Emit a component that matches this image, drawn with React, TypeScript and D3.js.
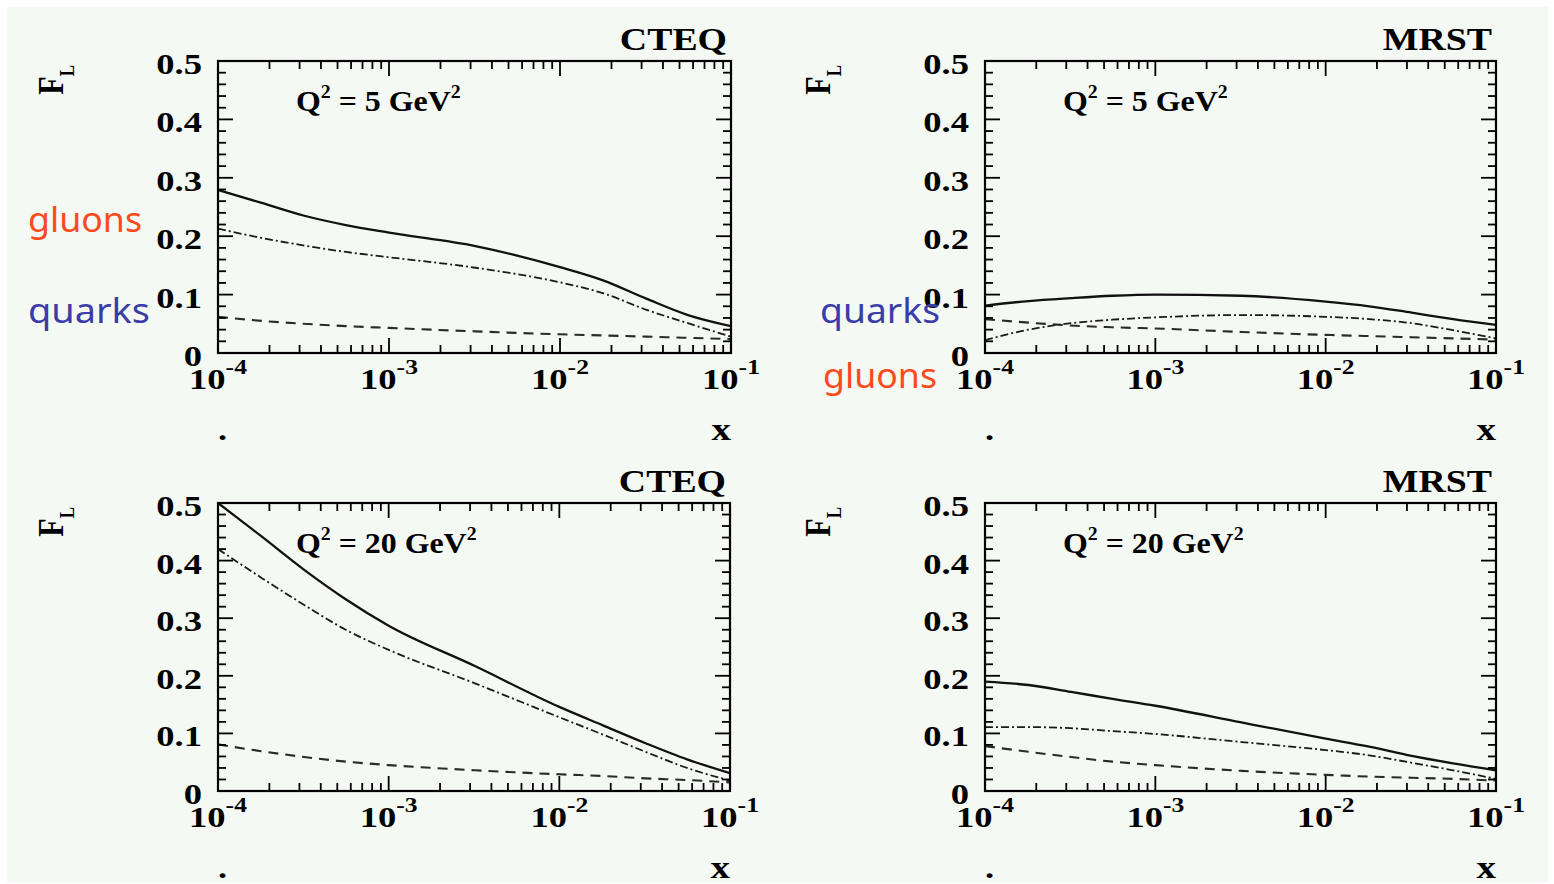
import React from "react";
import * as d3 from "d3";

// Sampling points in x (Bjorken x), shared by every curve
const X_GRID = [1e-4, 1.8e-4, 3.2e-4, 5.6e-4, 1e-3, 3.2e-3, 1e-2, 1.8e-2, 3.2e-2, 5.6e-2, 1e-1];

// F_L at Q^2 = 5 GeV^2
const CTEQ5_TOTAL = [0.279, 0.257, 0.235, 0.219, 0.206, 0.183, 0.147, 0.124, 0.093, 0.065, 0.046];
const CTEQ5_GLUON = [0.213, 0.197, 0.184, 0.173, 0.164, 0.146, 0.121, 0.102, 0.074, 0.051, 0.028];
const CTEQ5_QUARK = [0.062, 0.055, 0.05, 0.046, 0.043, 0.037, 0.032, 0.03, 0.028, 0.026, 0.024];
const MRST5_TOTAL = [0.081, 0.089, 0.094, 0.098, 0.1, 0.098, 0.088, 0.08, 0.069, 0.058, 0.048];
const MRST5_GLUON = [0.022, 0.04, 0.051, 0.057, 0.061, 0.065, 0.062, 0.058, 0.051, 0.039, 0.025];
const MRST5_QUARK = [0.058, 0.052, 0.047, 0.044, 0.042, 0.036, 0.031, 0.029, 0.027, 0.025, 0.023];

// F_L at Q^2 = 20 GeV^2
const CTEQ20_TOTAL = [0.5, 0.442, 0.384, 0.333, 0.287, 0.217, 0.146, 0.114, 0.083, 0.055, 0.031];
const CTEQ20_GLUON = [0.42, 0.37, 0.323, 0.28, 0.245, 0.187, 0.128, 0.098, 0.068, 0.04, 0.018];
const CTEQ20_QUARK = [0.081, 0.069, 0.059, 0.051, 0.045, 0.036, 0.029, 0.026, 0.022, 0.019, 0.015];
const MRST20_TOTAL = [0.19, 0.184, 0.172, 0.16, 0.148, 0.119, 0.091, 0.077, 0.061, 0.048, 0.036];
const MRST20_GLUON = [0.111, 0.111, 0.109, 0.104, 0.099, 0.085, 0.071, 0.062, 0.049, 0.036, 0.021];
const MRST20_QUARK = [0.078, 0.068, 0.059, 0.051, 0.045, 0.035, 0.028, 0.025, 0.023, 0.021, 0.018];

const PDF_SETS = ["CTEQ", "MRST"];
const Q2_VALUES = ["5", "20"];
const X_TICK_EXPONENTS = ["-4", "-3", "-2", "-1"];
const Y_TICK_LABELS = ["0", "0.1", "0.2", "0.3", "0.4", "0.5"];

const SERIES = [
  [CTEQ5_TOTAL, CTEQ5_GLUON, CTEQ5_QUARK],
  [MRST5_TOTAL, MRST5_GLUON, MRST5_QUARK],
  [CTEQ20_TOTAL, CTEQ20_GLUON, CTEQ20_QUARK],
  [MRST20_TOTAL, MRST20_GLUON, MRST20_QUARK],
];

const FRAMES = [
  { left: 218, top: 61, right: 731, bottom: 353 },
  { left: 985, top: 61, right: 1496, bottom: 353 },
  { left: 218, top: 503, right: 730, bottom: 791 },
  { left: 985, top: 503, right: 1496, bottom: 791 },
];

const SERIF = "'Liberation Serif', 'Times New Roman', serif";
const STRETCH = 1.22;

const LINE_STYLES = [
  { width: 2.3, dash: undefined, color: "#111" },
  { width: 1.8, dash: "8 3 2 3", color: "#1a1a1a" },
  { width: 2.1, dash: "10 7", color: "#2a2a2a" },
];

function Stretched({ x, y, sx = STRETCH, children }: any) {
  return <g transform={`translate(${x},${y}) scale(${sx},1)`}>{children}</g>;
}

function Panel({ index }: { index: number }) {
  const f = FRAMES[index];
  const title = PDF_SETS[index % 2];
  const q2 = Q2_VALUES[Math.floor(index / 2)];
  const data = SERIES[index];

  const x = d3.scaleLog().domain([1e-4, 1e-1]).range([f.left, f.right]);
  const y = d3.scaleLinear().domain([0, 0.5]).range([f.bottom, f.top]);
  const line = d3
    .line<number>()
    .x((_, i) => x(X_GRID[i]))
    .y((v) => y(v))
    .curve(d3.curveMonotoneX);

  const xTicks = x.ticks();
  const yTicks = d3.range(0, 26).map((k) => k * 0.02);
  const clipId = `clip-${index}`;
  const MAJ = 15;
  const MIN = 8;

  return (
    <g>
      <defs>
        <clipPath id={clipId}>
          <rect x={f.left} y={f.top} width={f.right - f.left} height={f.bottom - f.top} />
        </clipPath>
      </defs>

      {/* curves: total, gluon, quark */}
      <g clipPath={`url(#${clipId})`}>
        {data.map((vals, i) => (
          <path
            key={i}
            d={line(vals) || ""}
            fill="none"
            stroke={LINE_STYLES[i].color}
            strokeWidth={LINE_STYLES[i].width}
            strokeDasharray={LINE_STYLES[i].dash}
          />
        ))}
      </g>

      {/* x ticks on bottom and top */}
      {xTicks.map((t, i) => {
        const lg = Math.log10(t);
        const major = Math.abs(lg - Math.round(lg)) < 1e-6;
        const len = major ? MAJ : MIN;
        const px = x(t);
        return (
          <g key={`xt${i}`} stroke="#000" strokeWidth={1.8}>
            <line x1={px} x2={px} y1={f.bottom} y2={f.bottom - len} />
            <line x1={px} x2={px} y1={f.top} y2={f.top + len} />
          </g>
        );
      })}

      {/* y ticks on left and right */}
      {yTicks.map((t, i) => {
        const major = i % 5 === 0;
        const len = major ? MAJ : MIN;
        const py = y(t);
        return (
          <g key={`yt${i}`} stroke="#000" strokeWidth={1.8}>
            <line x1={f.left} x2={f.left + len} y1={py} y2={py} />
            <line x1={f.right} x2={f.right - len} y1={py} y2={py} />
          </g>
        );
      })}

      {/* frame */}
      <rect
        x={f.left}
        y={f.top}
        width={f.right - f.left}
        height={f.bottom - f.top}
        fill="none"
        stroke="#000"
        strokeWidth={2.2}
      />

      {/* y tick labels */}
      {Y_TICK_LABELS.map((lab, i) => (
        <Stretched key={`yl${i}`} x={f.left - 16} y={y(i * 0.1) + 13}>
          <text textAnchor="end" fontFamily={SERIF} fontWeight="bold" fontSize={30} fill="#000">
            {lab}
          </text>
        </Stretched>
      ))}

      {/* x tick labels */}
      {X_TICK_EXPONENTS.map((e, i) => (
        <Stretched key={`xl${i}`} x={x(Math.pow(10, Number(e)))} y={f.bottom + 36}>
          <text textAnchor="middle" fontFamily={SERIF} fontWeight="bold" fontSize={30} fill="#000">
            10
            <tspan fontSize={21} dy={-15}>
              {e}
            </tspan>
          </text>
        </Stretched>
      ))}

      {/* axis titles */}
      <Stretched x={f.right} y={f.bottom + 87}>
        <text textAnchor="end" fontFamily={SERIF} fontWeight="bold" fontSize={32} fill="#000">
          x
        </text>
      </Stretched>
      <Stretched x={f.left} y={f.bottom + 87}>
        <text textAnchor="start" fontFamily={SERIF} fontWeight="bold" fontSize={30} fill="#000">
          .
        </text>
      </Stretched>
      <g transform={`translate(${f.left - 155},${f.top + 4}) scale(${STRETCH},1) rotate(-90)`}>
        <text textAnchor="end" fontFamily={SERIF} fontWeight="bold" fontSize={30} fill="#000">
          F
          <tspan fontSize={17} dy={9}>
            L
          </tspan>
        </text>
      </g>

      {/* PDF set name */}
      <Stretched x={f.right - 4} y={f.top - 11}>
        <text textAnchor="end" fontFamily={SERIF} fontWeight="bold" fontSize={31} fill="#000">
          {title}
        </text>
      </Stretched>

      {/* Q^2 label */}
      <Stretched x={f.left + 78} y={f.top + 50} sx={1.1}>
        <text fontFamily={SERIF} fontWeight="bold" fontSize={29} fill="#000">
          Q
          <tspan fontSize={18} dy={-13}>
            2
          </tspan>
          <tspan dy={13}>{` = ${q2} GeV`}</tspan>
          <tspan fontSize={18} dy={-13}>
            2
          </tspan>
        </text>
      </Stretched>
    </g>
  );
}

const HAND = "'Noto Sans', 'DejaVu Sans', sans-serif";
const GLUON_COLOR = "#ff4a1e";
const QUARK_COLOR = "#3c3ca8";

export default function App() {
  return (
    <svg
      width={1554}
      height={884}
      style={{ position: "absolute", left: 0, top: 0, display: "block" }}
    >
      <rect x={0} y={0} width={1554} height={884} fill="#ffffff" />
      <rect x={7} y={7} width={1541} height={876} fill="#f4f9f3" />
      {FRAMES.map((_, i) => (
        <Panel key={i} index={i} />
      ))}

      {/* contribution labels */}
      <text x={28} y={232} fontFamily={HAND} fontSize={34} fill={GLUON_COLOR} textLength={114} lengthAdjust="spacingAndGlyphs">
        gluons
      </text>
      <text x={28} y={323} fontFamily={HAND} fontSize={34} fill={QUARK_COLOR} textLength={122} lengthAdjust="spacingAndGlyphs">
        quarks
      </text>
      <text x={820} y={323} fontFamily={HAND} fontSize={34} fill={QUARK_COLOR} textLength={120} lengthAdjust="spacingAndGlyphs">
        quarks
      </text>
      <text x={823} y={388} fontFamily={HAND} fontSize={34} fill={GLUON_COLOR} textLength={114} lengthAdjust="spacingAndGlyphs">
        gluons
      </text>
    </svg>
  );
}
